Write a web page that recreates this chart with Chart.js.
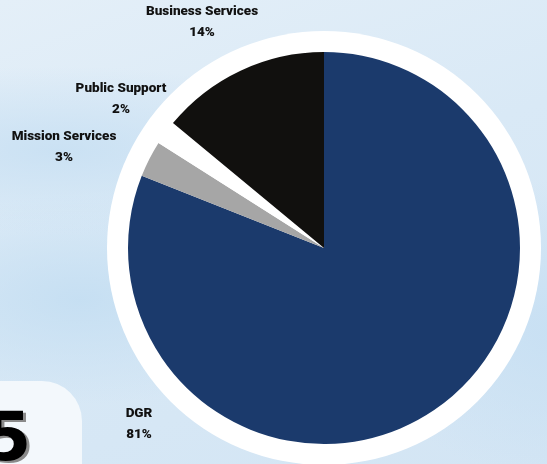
<!DOCTYPE html>
<html>
<head>
<meta charset="utf-8">
<script src="https://cdn.jsdelivr.net/npm/chart.js@4.4.1/dist/chart.umd.min.js"></script>
<style>
  html, body { margin: 0; padding: 0; }
  body {
    width: 547px; height: 464px; overflow: hidden; position: relative;
    background:
      radial-gradient(ellipse 420px 120px at 60px 150px, rgba(200,224,243,0.9), rgba(200,224,243,0) 70%),
      radial-gradient(ellipse 300px 140px at 80px 300px, rgba(196,222,242,0.9), rgba(196,222,242,0) 75%),
      radial-gradient(ellipse 260px 200px at 560px 330px, rgba(198,223,243,0.9), rgba(198,223,243,0) 75%),
      linear-gradient(160deg, #e4eff8 0%, #d9e9f6 45%, #d3e5f4 100%);
  }
  #card {
    position: absolute; left: -20px; top: 381px; width: 102px; height: 120px;
    background: #f3f8fc; border-top-right-radius: 40px; overflow: hidden;
  }
  #digit {
    position: absolute; left: 4px; top: 16px;
    font: 900 68px 'DejaVu Sans', sans-serif; color: #000;
    text-shadow: 3px 2px 0 #8a8a8a;
  }
  #wrap { position: absolute; left: 0; top: 0; width: 547px; height: 464px; }
</style>
</head>
<body>
<div id="card"><div id="digit">5</div></div>
<div id="wrap"><canvas id="pie"></canvas></div>
<script>
'use strict';

// ── Data ───────────────────────────────────────────────────────
const categories = ['DGR', 'Mission Services', 'Public Support', 'Business Services'];
const shares = [81, 3, 2, 14];

// ── Theme colors ───────────────────────────────────────────────
const sliceColors = ['#1b3a6c', '#a6a6a6', '#ffffff', '#11100e'];
const TEXT = '#111111';

// label anchors, px offset from pie centre (first line)
const labelOffsets = [[-185, 166], [-260, -111], [-203, -159], [-122, -236]];

// ── Plugins ────────────────────────────────────────────────────
const ringPlugin = {
  id: 'ring',
  beforeDatasetsDraw(chart) {
    const arc = chart.getDatasetMeta(0).data[0];
    if (!arc) return;
    const { ctx } = chart;
    ctx.save();
    ctx.fillStyle = '#ffffff';
    ctx.beginPath();
    ctx.arc(arc.x, arc.y, arc.outerRadius + 21, 0, Math.PI * 2);
    ctx.fill();
    ctx.restore();
  }
};

const labelPlugin = {
  id: 'sliceLabels',
  afterDatasetsDraw(chart) {
    const arcs = chart.getDatasetMeta(0).data;
    const { ctx } = chart;
    ctx.save();
    ctx.fillStyle = TEXT;
    ctx.font = '900 13.5px Roboto, sans-serif';
    ctx.textAlign = 'center';
    ctx.textBaseline = 'middle';
    arcs.forEach((arc, i) => {
      const [dx, dy] = labelOffsets[i];
      const x = arc.x + dx;
      const y = arc.y + dy;
      ctx.fillText(categories[i], x, y);
      ctx.fillText(shares[i] + '%', x, y + 21);
    });
    ctx.restore();
  }
};

// ── Chart ──────────────────────────────────────────────────────
new Chart(document.getElementById('pie').getContext('2d'), {
  type: 'pie',
  data: {
    labels: categories,
    datasets: [{
      data: shares,
      backgroundColor: sliceColors,
      borderWidth: 0
    }]
  },
  options: {
    responsive: true,
    maintainAspectRatio: false,
    animation: false,
    layout: { padding: { left: 128, right: 27, top: 52, bottom: 20 } },
    plugins: {
      legend: { display: false },
      tooltip: { enabled: false }
    }
  },
  plugins: [ringPlugin, labelPlugin]
});
</script>
</body>
</html>
